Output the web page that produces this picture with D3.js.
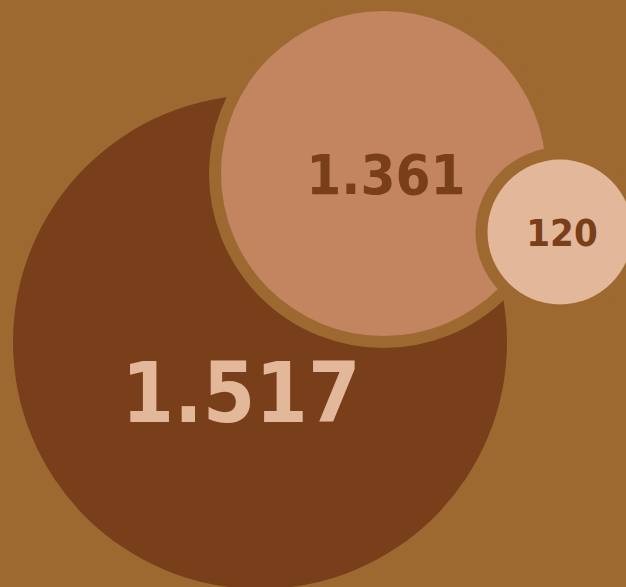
<!DOCTYPE html>
<html lang="de">
    <head>
        <meta charset="UTF-8" />
        <title>Bubbles</title>
        <style>
            body {
                margin: 0;
                background: #9e6930;
            }
            svg {
                display: block;
            }
            .label {
                font-family: "DejaVu Sans Condensed", "DejaVu Sans", sans-serif;
                font-stretch: condensed;
                font-weight: bold;
                text-anchor: middle;
            }
        </style>
    </head>
    <body>
        <svg></svg>
        <script src="https://cdnjs.cloudflare.com/ajax/libs/d3/7.9.0/d3.min.js"></script>
        <script>
            // values as shown (german thousands separator)
            const values = [1517, 1361, 120];
            const fills = ["#793e1a", "#c2855f", "#e3b79a"];
            const textColors = ["#e3b79a", "#793e1a", "#793e1a"];

            // bubble layout: centres, label anchors, font sizes
            const centers = [
                [260, 342],
                [383.5, 173.5],
                [560, 232],
            ];
            const labelPos = [
                [241, 422],
                [386, 193.5],
                [562, 246],
            ];
            const fontSizes = [84, 56, 38];

            const width = 626;
            const height = 587;
            const bg = "#9e6930";
            const ring = 12;

            const fmt = d3
                .formatLocale({ decimal: ",", thousands: ".", grouping: [3], currency: ["", "€"] })
                .format(",d");

            const r = d3.scaleLinear().domain([120, 1361, 1517]).range([72.5, 162.5, 247]);

            const svg = d3.select("svg").attr("width", width).attr("height", height);
            svg.append("rect").attr("width", width).attr("height", height).attr("fill", bg);

            const nodes = values.map((v, i) => ({ v, i }));

            const g = svg
                .selectAll(".bubble")
                .data(nodes)
                .enter()
                .append("g")
                .attr("class", "bubble");

            g.append("circle")
                .attr("cx", (d) => centers[d.i][0])
                .attr("cy", (d) => centers[d.i][1])
                .attr("r", (d) => r(d.v))
                .attr("fill", (d) => fills[d.i])
                .attr("stroke", (d) => (d.i === 0 ? "none" : bg))
                .attr("stroke-width", ring * 2)
                .style("paint-order", "stroke fill");

            g.append("text")
                .attr("class", "label")
                .attr("x", (d) => labelPos[d.i][0])
                .attr("y", (d) => labelPos[d.i][1])
                .attr("font-size", (d) => fontSizes[d.i])
                .attr("fill", (d) => textColors[d.i])
                .text((d) => fmt(d.v));
        </script>
    </body>
</html>
